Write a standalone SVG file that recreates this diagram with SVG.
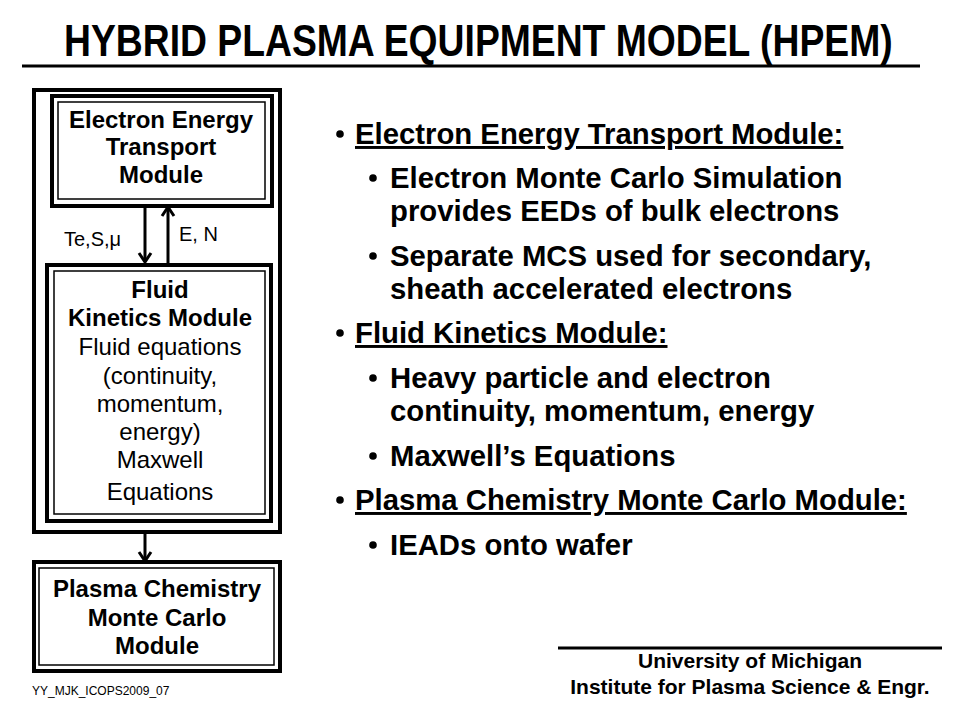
<svg xmlns="http://www.w3.org/2000/svg" width="960" height="720" viewBox="0 0 960 720">
<style>
text{font-family:"Liberation Sans",Arial,sans-serif;fill:#000}
.b{font-weight:bold}
.box{font-size:24px;text-anchor:middle}
.r{font-size:29.3px;font-weight:bold}
.u{text-decoration:underline}
.thick{fill:none;stroke:#000;stroke-width:4}
.thin{fill:none;stroke:#000;stroke-width:1.5}
.conn{stroke:#000;stroke-width:3;fill:none}
</style>
<defs>
<marker id="ah" viewBox="-12 -8 14 16" refX="0" refY="0" markerWidth="14" markerHeight="16" markerUnits="userSpaceOnUse" orient="auto">
<path d="M-9,-6 L0,0 L-9,6" fill="none" stroke="#000" stroke-width="3"/>
</marker>
</defs>
<rect width="960" height="720" fill="#fff"/>
<g id="title">
<text transform="translate(64,56) scale(0.827,1)" x="0" y="0" class="b" font-size="45" textLength="1002" lengthAdjust="spacingAndGlyphs">HYBRID PLASMA EQUIPMENT MODEL (HPEM)</text>
<line x1="22" y1="66" x2="920" y2="66" stroke="#000" stroke-width="3"/>
</g>
<g id="outer-frame">
<rect x="34" y="90" width="246" height="442" class="thick"/>
</g>
<g id="electron-energy-transport">
<rect x="52" y="96" width="220" height="110" class="thick"/>
<rect x="58" y="102" width="207" height="97" class="thin"/>
<text class="box b" x="161" y="128">Electron Energy</text>
<text class="box b" x="161" y="155">Transport</text>
<text class="box b" x="161" y="183">Module</text>
</g>
<g id="fluid-kinetics">
<rect x="47" y="265" width="224" height="256" class="thick"/>
<rect x="54" y="271" width="211" height="243" class="thin"/>
<text class="box b" x="160" y="298">Fluid</text>
<text class="box b" x="160" y="326">Kinetics Module</text>
<text class="box" x="160" y="355">Fluid equations</text>
<text class="box" x="160" y="384">(continuity,</text>
<text class="box" x="160" y="412">momentum,</text>
<text class="box" x="160" y="440">energy)</text>
<text class="box" x="160" y="468">Maxwell</text>
<text class="box" x="160" y="500">Equations</text>
</g>
<g id="plasma-chemistry">
<rect x="34" y="562" width="246" height="109" class="thick"/>
<rect x="39" y="568" width="235" height="97" class="thin"/>
<text class="box b" x="157" y="597">Plasma Chemistry</text>
<text class="box b" x="157" y="626">Monte Carlo</text>
<text class="box b" x="157" y="654">Module</text>
</g>
<g id="connectors">
<line x1="145" y1="206" x2="145" y2="262" class="conn" marker-end="url(#ah)"/>
<line x1="168" y1="263" x2="168" y2="207" class="conn" marker-end="url(#ah)"/>
<line x1="145" y1="532" x2="145" y2="561" class="conn" marker-end="url(#ah)"/>
<text x="64" y="246" font-size="20">Te,S,μ</text>
<text x="179" y="241" font-size="20">E, N</text>
</g>
<g id="bullets">
<circle cx="340" cy="134" r="3.8"/>
<text class="r u" x="355" y="144">Electron Energy Transport Module:</text>
<circle cx="373" cy="178" r="3.8"/>
<text class="r" x="390" y="188">Electron Monte Carlo Simulation</text>
<text class="r" x="390" y="221">provides EEDs of bulk electrons</text>
<circle cx="373" cy="256" r="3.8"/>
<text class="r" x="390" y="266">Separate MCS used for secondary,</text>
<text class="r" x="390" y="299">sheath accelerated electrons</text>
<circle cx="340" cy="333" r="3.8"/>
<text class="r u" x="355" y="343">Fluid Kinetics Module:</text>
<circle cx="373" cy="378" r="3.8"/>
<text class="r" x="390" y="388">Heavy particle and electron</text>
<text class="r" x="390" y="421">continuity, momentum, energy</text>
<circle cx="373" cy="456" r="3.8"/>
<text class="r" x="390" y="466">Maxwell’s Equations</text>
<circle cx="340" cy="500" r="3.8"/>
<text class="r u" x="355" y="510">Plasma Chemistry Monte Carlo Module:</text>
<circle cx="373" cy="545" r="3.8"/>
<text class="r" x="390" y="555">IEADs onto wafer</text>
</g>
<g id="footer">
<line x1="558" y1="648" x2="942" y2="648" stroke="#000" stroke-width="3"/>
<text class="b" x="750" y="668" font-size="21" text-anchor="middle">University of Michigan</text>
<text class="b" x="750" y="694" font-size="21" text-anchor="middle">Institute for Plasma Science &amp; Engr.</text>
<text x="32" y="695" font-size="12">YY_MJK_ICOPS2009_07</text>
</g>
</svg>
